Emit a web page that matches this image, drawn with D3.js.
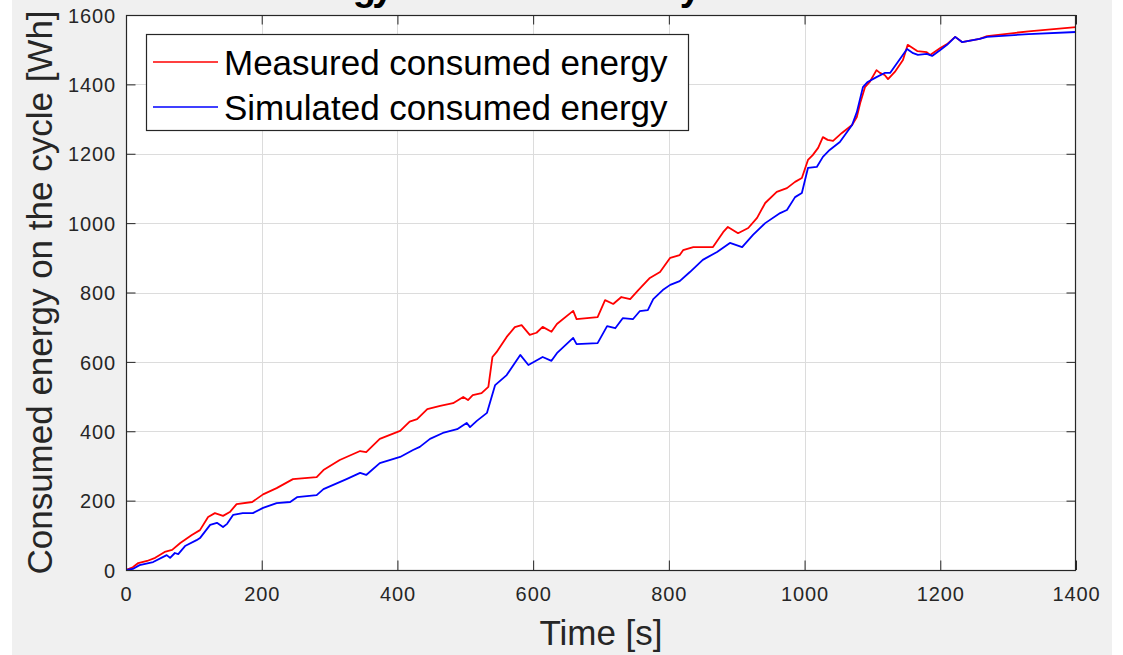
<!DOCTYPE html>
<html>
<head>
<meta charset="utf-8">
<script src="https://cdn.jsdelivr.net/npm/d3@7"></script>
<style>
  html, body { margin: 0; padding: 0; background: #ffffff; overflow: hidden; }
  svg { display: block; font-family: "Liberation Sans", Arial, Helvetica, sans-serif; }
</style>
</head>
<body>
<div id="chart"></div>
<script>
// series values: [time s, energy Wh]
const measured = [
  [0, 0], [10, 8], [18, 20], [31, 26], [43, 35], [57, 52], [68, 58], [80, 78], [97, 101], [109, 115],
  [121, 153], [131, 164], [143, 156], [153, 167], [163, 190], [186, 196], [202, 218], [222, 236], [246, 262], [281, 268],
  [291, 288], [315, 317], [345, 343], [354, 340], [374, 378], [404, 401], [418, 428], [429, 435], [444, 464], [463, 473],
  [482, 481], [497, 499], [504, 490], [511, 504], [524, 510], [534, 528], [540, 614], [546, 628], [561, 672], [573, 700],
  [583, 706], [595, 678], [605, 684], [614, 701], [627, 687], [635, 709], [659, 747], [664, 723], [695, 729], [706, 778],
  [718, 767], [730, 787], [743, 781], [755, 807], [772, 842], [787, 859], [802, 900], [816, 908], [821, 922], [836, 931],
  [865, 931], [880, 974], [887, 989], [902, 971], [917, 986], [930, 1015], [942, 1058], [959, 1090], [974, 1101], [986, 1119],
  [996, 1130], [1005, 1182], [1012, 1196], [1020, 1217], [1027, 1248], [1034, 1240], [1042, 1237], [1055, 1260], [1070, 1283], [1077, 1306],
  [1082, 1346], [1089, 1392], [1096, 1407], [1106, 1441], [1111, 1433], [1118, 1427], [1123, 1415], [1133, 1436], [1145, 1470], [1152, 1514],
  [1166, 1496], [1180, 1493], [1185, 1485], [1200, 1505], [1210, 1516], [1222, 1537], [1232, 1522], [1258, 1531], [1269, 1539], [1330, 1553],
  [1400, 1565]
];
const simulated = [
  [0, 0], [10, 3], [20, 14], [40, 23], [60, 43], [65, 35], [72, 49], [77, 46], [87, 69], [104, 86],
  [109, 92], [124, 130], [134, 136], [143, 124], [149, 133], [158, 159], [172, 164], [187, 164], [202, 179], [222, 193],
  [242, 196], [252, 210], [281, 216], [291, 233], [325, 262], [345, 280], [354, 274], [374, 308], [404, 326], [423, 346],
  [433, 355], [448, 378], [467, 395], [488, 406], [502, 424], [507, 412], [517, 430], [532, 453], [544, 533], [561, 562],
  [581, 620], [593, 591], [614, 614], [627, 603], [635, 625], [659, 669], [664, 651], [695, 654], [709, 703], [721, 697],
  [732, 726], [747, 723], [757, 746], [769, 749], [777, 781], [791, 807], [802, 822], [816, 833], [831, 859], [850, 894],
  [871, 917], [890, 943], [908, 931], [924, 966], [942, 1000], [964, 1029], [974, 1038], [986, 1075], [996, 1087], [1005, 1159],
  [1018, 1162], [1027, 1191], [1037, 1211], [1052, 1234], [1070, 1283], [1077, 1320], [1086, 1392], [1093, 1407], [1106, 1421], [1118, 1433],
  [1126, 1433], [1151, 1502], [1160, 1490], [1167, 1485], [1180, 1488], [1188, 1482], [1200, 1499], [1210, 1514], [1222, 1537], [1232, 1522],
  [1258, 1531], [1269, 1537], [1330, 1545], [1400, 1551]
];
const seriesNames = ['Measured consumed energy', 'Simulated consumed energy'];
const seriesColors = ['#ff0000', '#0000ff'];
const xTicks = [0, 200, 400, 600, 800, 1000, 1200, 1400];
const yTicks = [0, 200, 400, 600, 800, 1000, 1200, 1400, 1600];
const titleText = 'Energy consumed on the cycle';
const xLabel = 'Time [s]';
const yLabel = 'Consumed energy on the cycle [Wh]';

const W = 1123, H = 655;
const box = { left: 126, right: 1076, top: 15, bottom: 570 };
const axisColor = '#262626';
const tickLen = 9.5;

const svg = d3.select('#chart').append('svg')
  .attr('width', W)
  .attr('height', H);

// figure background (matlab grey)
svg.append('rect')
  .attr('x', 12).attr('y', 0)
  .attr('width', 1100).attr('height', H)
  .attr('fill', '#f0f0f0');

const x = d3.scaleLinear().domain([0, 1400]).range([box.left, box.right]);
const y = d3.scaleLinear().domain([0, 1600]).range([box.bottom, box.top]);
const pw = box.right - box.left;
const ph = box.bottom - box.top;

// axes area
svg.append('rect')
  .attr('x', box.left).attr('y', box.top)
  .attr('width', pw).attr('height', ph)
  .attr('fill', '#ffffff');

// grid
const grid = svg.append('g').attr('class', 'grid');
grid.selectAll('.vgrid')
  .data(xTicks.slice(1, -1))
  .enter().append('line')
  .attr('x1', d => Math.round(x(d)) + 0.5).attr('x2', d => Math.round(x(d)) + 0.5)
  .attr('y1', box.top).attr('y2', box.bottom)
  .attr('stroke', '#dcdcdc').attr('stroke-width', 1);
grid.selectAll('.hgrid')
  .data(yTicks.slice(1, -1))
  .enter().append('line')
  .attr('x1', box.left).attr('x2', box.right)
  .attr('y1', d => Math.round(y(d)) + 0.5).attr('y2', d => Math.round(y(d)) + 0.5)
  .attr('stroke', '#dcdcdc').attr('stroke-width', 1);

// curves
svg.append('clipPath').attr('id', 'clip')
  .append('rect')
  .attr('x', box.left).attr('y', box.top)
  .attr('width', pw).attr('height', ph);

const line = d3.line()
  .x(d => x(d[0]))
  .y(d => y(d[1]));

const plot = svg.append('g').attr('clip-path', 'url(#clip)');
[measured, simulated].forEach((s, i) => {
  plot.append('path')
    .datum(s)
    .attr('d', line)
    .attr('fill', 'none')
    .attr('stroke', seriesColors[i])
    .attr('stroke-width', 1.8)
    .attr('stroke-linejoin', 'round');
});

// axes (ticks point inward, box on)
const fmt = d3.format('d');
const xAxis = svg.append('g')
  .attr('transform', `translate(0,${box.bottom})`)
  .call(d3.axisBottom(x).tickValues(xTicks).tickFormat(fmt).tickSizeInner(-tickLen).tickSizeOuter(0).tickPadding(32));
const yAxis = svg.append('g')
  .attr('transform', `translate(${box.left},0)`)
  .call(d3.axisLeft(y).tickValues(yTicks).tickFormat(fmt).tickSizeInner(-tickLen).tickSizeOuter(0).tickPadding(10));
svg.append('g')
  .attr('transform', `translate(0,${box.top})`)
  .call(d3.axisTop(x).tickValues(xTicks).tickFormat('').tickSizeInner(-tickLen).tickSizeOuter(0));
svg.append('g')
  .attr('transform', `translate(${box.right},0)`)
  .call(d3.axisRight(y).tickValues(yTicks).tickFormat('').tickSizeInner(-tickLen).tickSizeOuter(0));

svg.selectAll('.domain').remove();
svg.selectAll('.tick line').attr('stroke', axisColor).attr('stroke-width', 1);
[xAxis, yAxis].forEach(a => a.selectAll('.tick text')
  .attr('fill', axisColor)
  .style('font-family', '"Liberation Sans", Arial, sans-serif')
  .style('font-size', '20px')
  .style('letter-spacing', '0.9px'));
xAxis.selectAll('.tick text').attr('dy', null).attr('y', 31);
yAxis.selectAll('.tick text').attr('dy', '0.36em');

svg.append('rect')
  .attr('x', box.left + 0.5).attr('y', box.top + 0.5)
  .attr('width', pw - 1).attr('height', ph)
  .attr('fill', 'none')
  .attr('stroke', axisColor)
  .attr('stroke-width', 1.2);

// title: the window cuts it, only the descenders show
svg.append('text')
  .attr('x', 283).attr('y', 0)
  .attr('fill', '#000')
  .style('font-size', '38px')
  .style('font-weight', 'bold')
  .style('letter-spacing', '-3.7px')
  .text(titleText);

// axis labels
svg.append('text')
  .attr('x', (box.left + box.right) / 2).attr('y', 645)
  .attr('text-anchor', 'middle')
  .attr('fill', axisColor)
  .style('font-size', '35px')
  .text(xLabel);

svg.append('text')
  .attr('transform', `translate(52,${(box.top + box.bottom) / 2}) rotate(-90)`)
  .attr('text-anchor', 'middle')
  .attr('fill', axisColor)
  .style('font-size', '35px')
  .text(yLabel);

// legend
const legend = svg.append('g');
legend.append('rect')
  .attr('x', 146.5).attr('y', 34.5)
  .attr('width', 542).attr('height', 96)
  .attr('fill', '#ffffff')
  .attr('stroke', axisColor)
  .attr('stroke-width', 1.2);
seriesNames.forEach((name, i) => {
  const ly = 62 + i * 45;
  legend.append('line')
    .attr('x1', 153).attr('x2', 218)
    .attr('y1', ly).attr('y2', ly)
    .attr('stroke', seriesColors[i])
    .attr('stroke-width', 1.3);
  legend.append('text')
    .attr('x', 224).attr('y', ly + 13)
    .attr('fill', '#000')
    .style('font-size', '35px')
    .text(name);
});
</script>
</body>
</html>
